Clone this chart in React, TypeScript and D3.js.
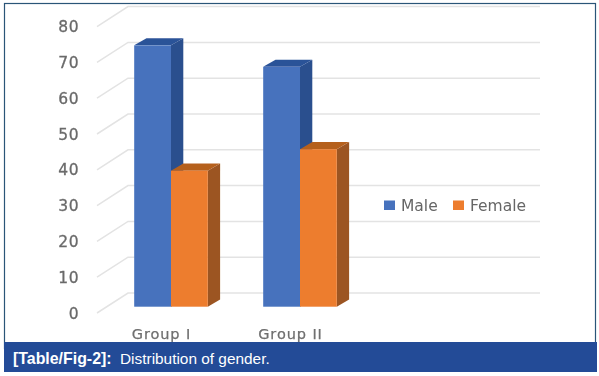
import React from "react";
import * as d3 from "d3";

const groups = ["Group I", "Group II"];
const seriesNames = ["Male", "Female"];
const maleValues = [73, 67];
const femaleValues = [38, 44];
const tickValues = [0, 10, 20, 30, 40, 50, 60, 70, 80];

const faceColors = ["#4672bd", "#ed7d2e"];
const sideColors = ["#2a4f8e", "#9c5522"];
const topColors = ["#2b5298", "#b5601f"];

const W = 599, H = 376;
const font = "'DejaVu Sans', sans-serif";

export default function App() {
  const y = d3.scaleLinear().domain([0, 80]).range([306.7, 20.3]);
  const x0 = d3.scalePoint<string>().domain(groups).range([171, 300]);
  const barW = 36.8;
  const dx = 12.3, dy = 7.2;
  const wallDx = 31, wallDy = 20; // tick-stub runs from axis to back wall
  const frontToWall = 13.7;
  const series = [maleValues, femaleValues];

  return (
    <svg width={W} height={H} viewBox={`0 0 ${W} ${H}`}
      style={{ position: "absolute", left: 0, top: 0, background: "#fff" }}>
      <defs>
        <filter id="soft" x="-2%" y="-2%" width="104%" height="104%">
          <feGaussianBlur stdDeviation="0.45" />
        </filter>
      </defs>
      <rect x={4.5} y={3.5} width={591} height={345} fill="#fff" stroke="#2a5578" strokeWidth={1.2} />
      <g filter="url(#soft)">
        {tickValues.map((t) => {
          const yb = y(t) - frontToWall;
          return (
            <g key={t}>
              <path d={`M${128 - wallDx},${yb + wallDy}L128,${yb}L540,${yb}`} fill="none" stroke="#e3e3e3" strokeWidth={1.5} />
              <text x={79.5} y={yb + wallDy} dy="0.36em" textAnchor="end" fontFamily={font} fontSize={15.5}
                letterSpacing={0.8} stroke="#6a6a6a" strokeWidth={0.3} fill="#6a6a6a">{t}</text>
            </g>
          );
        })}
        {groups.map((g, gi) =>
          series.map((vals, si) => {
            const left = x0(g)! + (si === 0 ? -barW : 0);
            const right = left + barW;
            const top = y(vals[gi]);
            const base = y(0);
            return (
              <g key={g + si}>
                <path d={`M${right},${top}L${right + dx},${top - dy}L${right + dx},${base - dy}L${right},${base}Z`} fill={sideColors[si]} />
                <path d={`M${left},${top}L${left + dx},${top - dy}L${right + dx},${top - dy}L${right},${top}Z`} fill={topColors[si]} />
                <rect x={left} y={top} width={barW} height={base - top} fill={faceColors[si]} />
              </g>
            );
          })
        )}
        {groups.map((g, i) => (
          <text key={g} x={x0(g)! - 9.5} y={333.5} dy="0.36em" textAnchor="middle" fontFamily={font}
            fontSize={14.5} letterSpacing={0.9} stroke="#6f6f6f" strokeWidth={0.25} fill="#6f6f6f">{g}</text>
        ))}
        {seriesNames.map((s, i) => {
          const lx = [384, 453][i];
          return (
            <g key={s}>
              <rect x={lx} y={200.5} width={11} height={9.5} fill={faceColors[i]} />
              <text x={lx + 17} y={205.5} dy="0.36em" fontFamily={font} fontSize={15.5} fill="#666">{s}</text>
            </g>
          );
        })}
      </g>
      <rect x={4} y={342} width={593} height={30} fill="#234b97" />
      <text y={358} dy="0.36em" fontFamily="'Liberation Sans', Arial, sans-serif" fill="#fff">
        <tspan x={13} fontWeight={700} fontSize={15.9}>[Table/Fig-2]:</tspan>
        <tspan x={120} fontSize={15.4}>Distribution of gender.</tspan>
      </text>
    </svg>
  );
}
